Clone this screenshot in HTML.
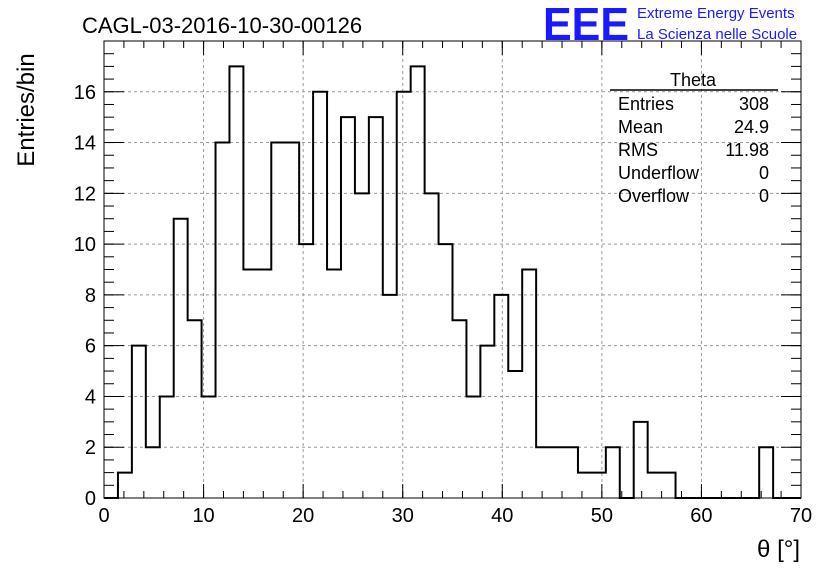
<!DOCTYPE html>
<html><head><meta charset="utf-8"><style>
body{margin:0;background:#fff;}
svg text{font-family:"Liberation Sans",sans-serif;}
</style></head><body>
<svg width="836" height="572" viewBox="0 0 836 572" id="chart">
<rect x="0" y="0" width="836" height="572" fill="#fff"/>
<text x="82" y="33" font-size="22">CAGL-03-2016-10-30-00126</text>
<text x="543" y="40" font-size="46" fill="#1a1aff" font-weight="bold" textLength="86" lengthAdjust="spacingAndGlyphs">EEE</text>
<text x="637" y="18" font-size="15" fill="#1a1aff">Extreme Energy Events</text>
<text x="637" y="39" font-size="15" fill="#1a1aff">La Scienza nelle Scuole</text>
<g id="grid"></g>
<g id="ticks"></g>
<path id="hist" fill="none" stroke="#000" stroke-width="2"/>
<rect x="104" y="41" width="697" height="457" fill="none" stroke="#000" stroke-width="1"/>
<text x="34" y="110" font-size="24" transform="rotate(-90 34 110)" text-anchor="middle" dx="0">Entries/bin</text>
<text x="800" y="557" font-size="24" text-anchor="end">θ [°]</text>
<g font-size="18">
<line x1="610" y1="90" x2="778" y2="90" stroke="#000" stroke-width="1.5"/>
<text x="693" y="86" text-anchor="middle">Theta</text>
<text x="618" y="110">Entries</text><text x="769" y="110" text-anchor="end">308</text>
<text x="618" y="133">Mean</text><text x="769" y="133" text-anchor="end">24.9</text>
<text x="618" y="156">RMS</text><text x="769" y="156" text-anchor="end">11.98</text>
<text x="618" y="179">Underflow</text><text x="769" y="179" text-anchor="end">0</text>
<text x="618" y="202">Overflow</text><text x="769" y="202" text-anchor="end">0</text>
</g>
</svg>
<script>
const binCounts=[0,1,6,2,4,11,7,4,14,17,9,9,14,14,10,16,9,15,12,15,8,16,17,12,10,7,4,6,8,5,9,2,2,2,1,1,2,0,3,1,1,0,0,0,0,0,0,2,0,0];
const xTicks=[0,10,20,30,40,50,60,70];
const yTicks=[0,2,4,6,8,10,12,14,16];
const xMin=0,xMax=70,yMin=0,yMax=18;
const L=104,R=801,T=41,B=498;
const sx=v=>L+(v-xMin)/(xMax-xMin)*(R-L);
const sy=v=>B-(v-yMin)/(yMax-yMin)*(B-T);
const NS="http://www.w3.org/2000/svg";
const grid=document.getElementById('grid'),ticks=document.getElementById('ticks'),svg=document.getElementById('chart');
function mk(tag,attrs,parent){const e=document.createElementNS(NS,tag);for(const k in attrs)e.setAttribute(k,attrs[k]);parent.appendChild(e);return e;}
xTicks.forEach(v=>{
 const x=sx(v);
 if(v>xMin&&v<xMax){const g=mk('line',{x1:x,y1:T,x2:x,y2:B,stroke:'#999','stroke-dasharray':'3,3'},grid);
 
 }
 mk('line',{x1:x,y1:B,x2:x,y2:B-14,stroke:'#000'},ticks);
 mk('line',{x1:x,y1:T,x2:x,y2:T+14,stroke:'#000'},ticks);
 const t=mk('text',{x:x,y:522,'font-size':20,'text-anchor':'middle'},svg);
 t.textContent=v;
 
 
});
for(let v=xMin;v<=xMax;v+=2){const x=sx(v);mk('line',{x1:x,y1:B,x2:x,y2:B-7,stroke:'#000'},ticks);mk('line',{x1:x,y1:T,x2:x,y2:T+7,stroke:'#000'},ticks);}
yTicks.forEach(v=>{
 const y=sy(v);
 if(v>yMin){const g=mk('line',{x1:L,y1:y,x2:R,y2:y,stroke:'#999','stroke-dasharray':'3,3'},grid);
 
 }
 mk('line',{x1:L,y1:y,x2:L+20,y2:y,stroke:'#000'},ticks);
 mk('line',{x1:R,y1:y,x2:R-20,y2:y,stroke:'#000'},ticks);
 const t=mk('text',{x:96,y:y+7,'font-size':20,'text-anchor':'end'},svg);
 t.textContent=v;
 
 
});
for(let v=yMin;v<=yMax;v+=0.5){const y=sy(v);mk('line',{x1:L,y1:y,x2:L+10,y2:y,stroke:'#000'},ticks);mk('line',{x1:R,y1:y,x2:R-10,y2:y,stroke:'#000'},ticks);}
const w=(xMax-xMin)/binCounts.length;
let d='M'+sx(xMin)+','+sy(0);
binCounts.forEach((c,i)=>{d+=' L'+sx(xMin+i*w)+','+sy(c)+' L'+sx(xMin+(i+1)*w)+','+sy(c);});
d+=' L'+sx(xMax)+','+sy(0);
document.getElementById('hist').setAttribute('d',d);
</script>
</body></html>
